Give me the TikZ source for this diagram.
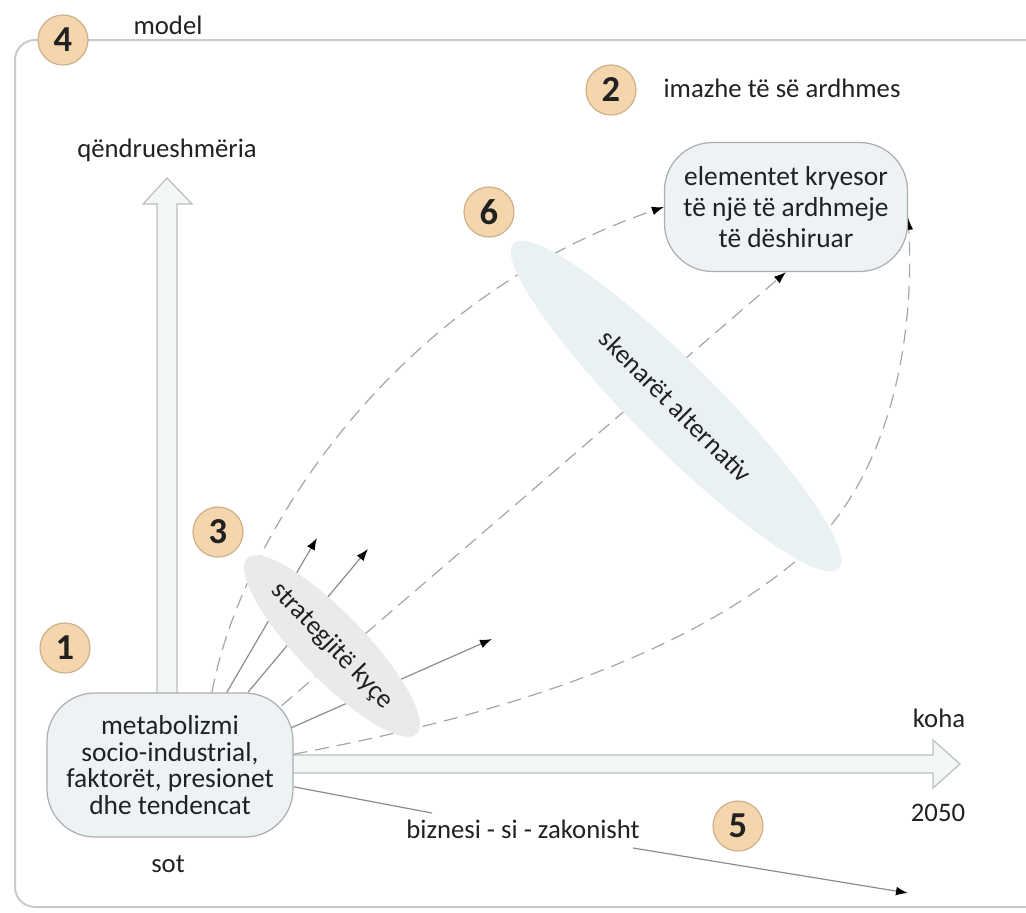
\documentclass[tikz,border=0pt]{standalone}
\usepackage{fontspec}
\setmainfont{Carlito}
\usetikzlibrary{arrows.meta,shapes.geometric,backgrounds}

\definecolor{badgefill}{HTML}{F5D6AC}
\definecolor{badgeline}{HTML}{CDB089}
\definecolor{boxfill}{HTML}{EDF2F4}
\definecolor{boxline}{HTML}{ADADAD}
\definecolor{framegray}{HTML}{CACACA}
\definecolor{dashgray}{HTML}{A5A5A5}
\definecolor{linegray}{HTML}{8C8C8C}
\definecolor{ovalblue}{HTML}{EAF1F3}
\definecolor{ovalgray}{HTML}{EAEAEA}

\begin{document}
\begin{tikzpicture}[x=0.25mm,y=-0.25mm,
    every node/.style={font=\fontsize{19}{22}\selectfont,text=black!87},
    num/.style={circle,fill=badgefill,draw=badgeline,line width=0.3mm,minimum size=12.5mm,inner sep=0pt,font=\fontsize{26}{26}\selectfont\bfseries},
    block/.style={rectangle,rounded corners=12mm,fill=boxfill,draw=boxline,line width=0.3mm,align=center,inner sep=0pt},
    oval/.style={ellipse,inner sep=0pt,draw=none},
    hollow/.style={fill=boxfill!70,draw=boxline!80,line width=0.3mm},
    dashlink/.style={draw=dashgray,line width=0.3mm,dash pattern=on 3.5mm off 2mm,-{Latex[length=3mm,width=2.2mm,color=black]}},
    link/.style={draw=linegray,line width=0.3mm,-{Latex[length=3mm,width=2.2mm,color=black]}}]

    \useasboundingbox (0,0) rectangle (1026,912);

    % today and the wished future
    \node[block,minimum width=61.5mm,minimum height=36mm,font=\fontsize{19.5}{19}\selectfont] (meta) at (170,765) {metabolizmi\\socio-industrial,\\faktorët, presionet\\dhe tendencat};
    \node[block,minimum width=60.75mm,minimum height=32.25mm,font=\fontsize{19.5}{22}\selectfont] (target) at (786,207) {elementet kryesor\\të një të ardhmeje\\të dëshiruar};

    \coordinate (s1) at (317,538);
    \coordinate (s2) at (368,549);
    \coordinate (s3) at (492,639);
    \coordinate (bend) at (797,560);
    \coordinate (bz1) at (432,813);
    \coordinate (bz2) at (633,848);
    \coordinate (bz3) at (908,893);

    \begin{scope}[on background layer]
      \draw[framegray,line width=0.5mm,rounded corners=5mm] (15,40) rectangle (1045,907);

      % axes
      \draw[hollow] (157,720) -- (157,204) -- (143,204) -- (167,178) -- (192,204) -- (177,204) -- (177,720) -- cycle;
      \draw[hollow] (270,755) -- (933,755) -- (933,740) -- (960,764) -- (933,788) -- (933,773) -- (270,773) -- cycle;

      % scenarios
      \draw[dashlink] (meta.60) .. controls (240,540) and (390,300) .. (target.west);
      \draw[dashlink] ([shift={(95,-45)}]meta.center) -- (target.south);
      \draw[dashlink] (meta.5) .. controls (460,723) and (667,669) .. (bend) .. controls (890,482) and (915,340) .. (target.-5);

      % strategies
      \draw[link] (meta.52) -- (s1);
      \draw[link] (meta.43) -- (s2);
      \draw[link] ([shift={(105,-30)}]meta.center) -- (s3);

      % business as usual
      \draw[linegray,line width=0.3mm] (meta.-10) -- (bz1);
      \draw[link] (bz2) -- (bz3);
    \end{scope}

    \node[oval,fill=ovalblue,minimum width=115mm,minimum height=21mm,rotate=-45] (scen) at (676,406) {skenarët alternativ};
    \node[oval,fill=ovalgray,minimum width=61mm,minimum height=16.5mm,rotate=-46] (strat) at (332,646) {strategjitë kyçe};

    % labels
    \node (model) at (168,25) {model};
    \node (imazhe) at (782,88) {imazhe të së ardhmes};
    \node (qend) at (167,150) {qëndrueshmëria};
    \node (koha) at (939,718) {koha};
    \node (year) at (938,813) {2050};
    \node (sot) at (168,864) {sot};
    \node (biz) at (523,829) {biznesi - si - zakonisht};

    \node[num] (n4) at (63,40) {4};
    \node[num] (n2) at (611,90) {2};
    \node[num] (n6) at (489,212) {6};
    \node[num] (n3) at (218,532) {3};
    \node[num] (n1) at (65,648) {1};
    \node[num] (n5) at (738,826) {5};
\end{tikzpicture}
\end{document}
